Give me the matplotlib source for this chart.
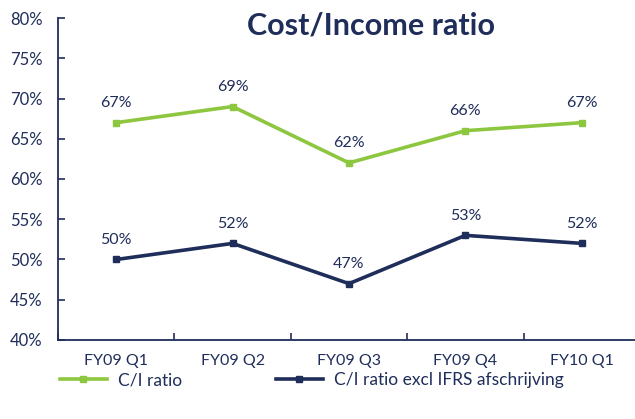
import matplotlib
matplotlib.use("Agg")
import matplotlib.pyplot as plt
from matplotlib.lines import Line2D

categories = ["FY09 Q1", "FY09 Q2", "FY09 Q3", "FY09 Q4", "FY10 Q1"]
ci_ratio = [67, 69, 62, 66, 67]
ci_excl = [50, 52, 47, 53, 52]
yticks = [40, 45, 50, 55, 60, 65, 70, 75, 80]

green = "#8DC63F"
navy = "#1F2D5A"
plt.rcParams['font.family'] = ['Lato', 'DejaVu Sans']

fig = plt.figure(figsize=(6.35, 4.19), dpi=100)
W, H = 635, 419
ax = fig.add_axes([58 / W, 1 - 340 / H, (640 - 58) / W, (340 - 18) / H])
x = list(range(len(categories)))
ax.plot(x, ci_ratio, color=green, lw=2.6, marker="s", ms=5, clip_on=False)
ax.plot(x, ci_excl, color=navy, lw=2.6, marker="s", ms=5, clip_on=False)
for xi, v in zip(x, ci_ratio):
    ax.annotate(f"{v}%", (xi, v), xytext=(0, 9), textcoords="offset points",
                ha="center", va="bottom", fontsize=11.5, color=navy)
for xi, v in zip(x, ci_excl):
    ax.annotate(f"{v}%", (xi, v), xytext=(0, 9), textcoords="offset points",
                ha="center", va="bottom", fontsize=11.5, color=navy)

ax.set_xlim(-0.5, 4.5)
ax.set_ylim(40, 80)
ax.set_yticks(yticks)
ax.set_yticklabels([f"{t}%" for t in yticks], fontsize=12, color=navy)
ax.set_xticks([i - 0.5 for i in range(6)], minor=False)
ax.set_xticklabels([])
ax.set_xticks(x, minor=True)
ax.set_xticklabels(categories, minor=True, fontsize=11.5, color=navy)
ax.tick_params(axis="x", which="minor", length=0, pad=10)
ax.tick_params(axis="x", which="major", length=5, direction="in", color=navy, width=1.2)
ax.tick_params(axis="y", length=5, direction="in", color=navy, width=1.2, pad=11)
for s in ["top", "right"]:
    ax.spines[s].set_visible(False)
for s in ["left", "bottom"]:
    ax.spines[s].set_color(navy)
    ax.spines[s].set_linewidth(1.3)

fig.text(371 / W, 1 - 25 / H, "Cost/Income ratio", ha="center", va="center",
         fontsize=22, fontweight="bold", color=navy)

handles = [Line2D([], [], color=green, lw=2.6, marker="s", ms=5),
           Line2D([], [], color=navy, lw=2.6, marker="s", ms=5)]
fig.legend(handles, ["C/I ratio", "C/I ratio excl IFRS afschrijving"], loc="center left",
           bbox_to_anchor=(60 / W, 1 - 380 / H), ncol=2, frameon=False, fontsize=12.5,
           handlelength=2.7, handletextpad=0.65, columnspacing=5.4,
           borderpad=0, borderaxespad=0, labelcolor=navy)

fig.savefig("out.png", dpi=100)
